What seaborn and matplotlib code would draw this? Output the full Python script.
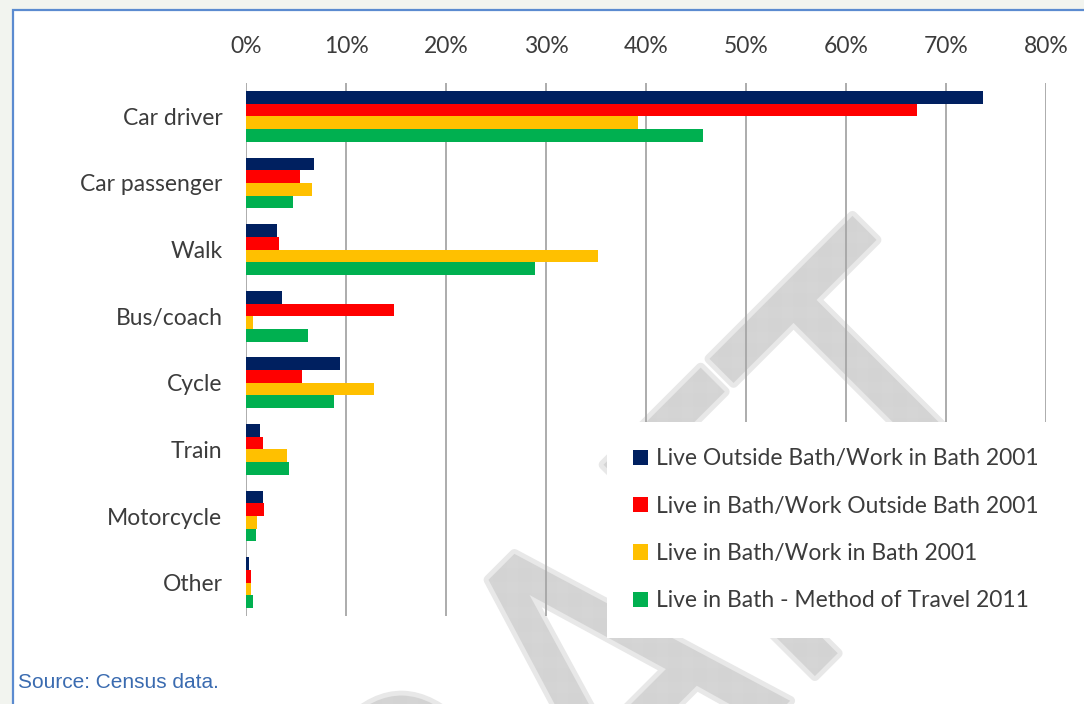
import numpy as np
import pandas as pd
import matplotlib
matplotlib.use("Agg")
import matplotlib.pyplot as plt
import seaborn as sns
from matplotlib.patches import Rectangle, PathPatch
from matplotlib.textpath import TextPath
from matplotlib.font_manager import FontProperties
from matplotlib.transforms import Affine2D
from matplotlib.ticker import FuncFormatter, MultipleLocator

# Share of journeys to work by mode (%)
modes = ["Car driver", "Car passenger", "Walk", "Bus/coach", "Cycle",
         "Train", "Motorcycle", "Other"]
series = ["Live Outside Bath/Work in Bath 2001",
          "Live in Bath/Work Outside Bath 2001",
          "Live in Bath/Work in Bath 2001",
          "Live in Bath - Method of Travel 2011"]
outside_in_2001 = [73.7, 6.8, 3.1, 3.6, 9.4, 1.4, 1.7, 0.3]
in_outside_2001 = [67.1, 5.4, 3.3, 14.8, 5.6, 1.7, 1.8, 0.5]
in_in_2001 = [39.2, 6.6, 35.2, 0.7, 12.8, 4.1, 1.1, 0.5]
in_bath_2011 = [45.7, 4.7, 28.9, 6.2, 8.8, 4.3, 1.0, 0.7]
colors = ["#002060", "#ff0000", "#ffc000", "#00b050"]
source_note = "Source: Census data."

values = [outside_in_2001, in_outside_2001, in_in_2001, in_bath_2011]
df = pd.DataFrame({
    "mode": np.tile(modes, len(series)),
    "series": np.repeat(series, len(modes)),
    "share": np.concatenate(values),
})

sns.set_style("white")
plt.rcParams["font.family"] = ["Lato", "DejaVu Sans"]
plt.rcParams["hatch.linewidth"] = 0.35
text_color = "#3c3c3c"

W, H = 1084, 704
fig = plt.figure(figsize=(W / 100, H / 100), dpi=100)
fig.patch.set_facecolor("#f2f4ef")

# white page panel with blue outline
fig.add_artist(Rectangle((13 / W, -0.1), 2.0, (H - 10) / H + 0.1,
                         transform=fig.transFigure, facecolor="white",
                         edgecolor="#5b8bd0", lw=1.6, zorder=-10))

# "DRAFT" watermark behind the chart
bg = fig.add_axes([0, 0, 1, 1], zorder=-5)
bg.set_xlim(0, W)
bg.set_ylim(0, H)
bg.axis("off")
bg.patch.set_alpha(0)
tp = TextPath((0, 0), "DRAFT", size=328, prop=FontProperties(family="DejaVu Sans"))
wm = (Affine2D().scale(1.0, 1.25).rotate_deg(45).translate(303, -484)
      .transform_path(tp))
bg.add_patch(PathPatch(wm, facecolor="#e8e8e8", edgecolor="#e8e8e8", lw=7,
                       joinstyle="round"))
bg.add_patch(PathPatch(wm, facecolor="none", edgecolor="#d3d3d3", lw=0,
                       hatch="+" * 16))

ax = fig.add_axes([246 / W, 1 - 616 / H, 800 / W, 533 / H])
ax.patch.set_alpha(0)
sns.barplot(data=df, x="share", y="mode", hue="series", palette=colors,
            orient="h", width=0.76, saturation=1, ax=ax, linewidth=0)

ax.set_xlim(0, 80)
ax.xaxis.set_major_locator(MultipleLocator(10))
ax.xaxis.set_major_formatter(FuncFormatter(lambda v, p: f"{v:.0f}%"))
ax.xaxis.tick_top()
ax.grid(axis="x", color="#a6a6a6", lw=1.3)
ax.grid(axis="y", visible=False)
ax.set_axisbelow(True)
for s in ax.spines.values():
    s.set_visible(False)
ax.tick_params(axis="x", length=0, pad=19, labelsize=16.5, labelcolor=text_color)
ax.tick_params(axis="y", length=0, pad=17, labelsize=16.5, labelcolor=text_color)
ax.set_xlabel("")
ax.set_ylabel("")

handles, labels = ax.get_legend_handles_labels()
leg = ax.legend(handles, labels, loc="upper left",
                bbox_to_anchor=(607 / W, 1 - 422 / H),
                bbox_transform=fig.transFigure, frameon=True,
                facecolor="white", edgecolor="none", framealpha=1,
                fancybox=False, fontsize=16.5, handlelength=0.65,
                handleheight=0.65, handletextpad=0.35, labelspacing=1.15,
                borderpad=1.15, borderaxespad=0)
for t in leg.get_texts():
    t.set_color(text_color)

fig.text(18 / W, 1 - 683 / H, source_note, family="Liberation Sans",
         fontsize=15, color="#3a6bb0", va="center")

fig.savefig("out.png", dpi=100)
